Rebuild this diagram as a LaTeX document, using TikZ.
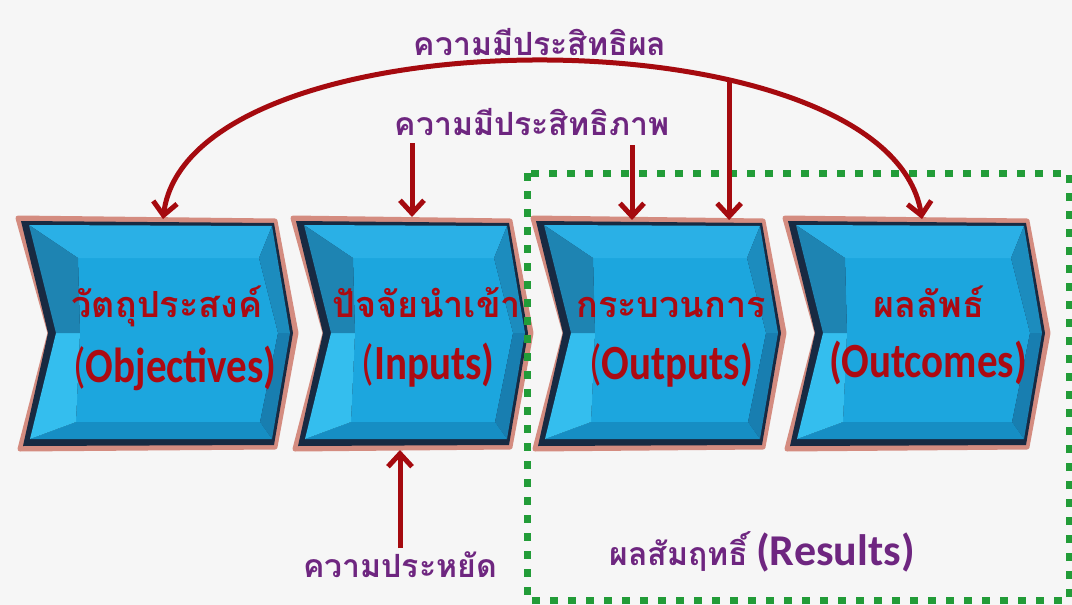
\documentclass[tikz,border=0pt]{standalone}
\usepackage{fontspec}
\newfontfamily\thai[Script=Thai]{Loma}
\newfontfamily\lat{Carlito}
\usetikzlibrary{arrows.meta}
\definecolor{bgc}{RGB}{246,246,246}
\definecolor{pinkb}{RGB}{212,140,128}
\definecolor{navyc}{RGB}{24,42,66}
\definecolor{chFace}{RGB}{28,166,222}
\definecolor{chTop}{RGB}{42,176,230}
\definecolor{chLeftUp}{RGB}{30,132,178}
\definecolor{chLeftLow}{RGB}{52,190,238}
\definecolor{chRight}{RGB}{28,140,190}
\definecolor{chRightLow}{RGB}{24,126,176}
\definecolor{chBottom}{RGB}{22,142,196}
\definecolor{arrowred}{RGB}{165,10,15}
\definecolor{textred}{RGB}{172,10,18}
\definecolor{purp}{RGB}{110,38,128}
\definecolor{greenc}{RGB}{34,156,56}
\newcommand{\chev}[2]{%
  \fill[pinkb, draw=pinkb, line width=5pt, line join=round]
    (#1,218) -- (#2,221) -- ({#2+21},333) -- (#2,447) -- ({#1+2},449) -- ({#1+32},333) -- cycle;
  \fill[navyc] ({#1+3},221) -- ({#2-1},223) -- ({#2+18},333) -- ({#2-1},445) -- ({#1+5},446) -- ({#1+30},333) -- cycle;
  \coordinate (P1) at ({#1+11},225); \coordinate (P2) at ({#2-3},226);
  \coordinate (P3) at ({#2+15},333); \coordinate (P4) at ({#2-3},439);
  \coordinate (P5) at ({#1+12},439); \coordinate (P6) at ({#1+38},333);
  \coordinate (Q1) at ({#1+60},258); \coordinate (Q2) at ({#2-16},258);
  \coordinate (Q3) at ({#2+3},333); \coordinate (Q4) at ({#2-15},422);
  \coordinate (Q5) at ({#1+58},422); \coordinate (Q6) at ({#1+62},333);
  \fill[chFace] (Q1) -- (Q2) -- (Q3) -- (Q4) -- (Q5) -- (Q6) -- cycle;
  \fill[chTop] (P1) -- (P2) -- (Q2) -- (Q1) -- cycle;
  \fill[chRight] (P2) -- (P3) -- (Q3) -- (Q2) -- cycle;
  \fill[chRightLow] (P3) -- (P4) -- (Q4) -- (Q3) -- cycle;
  \fill[chBottom] (P4) -- (P5) -- (Q5) -- (Q4) -- cycle;
  \fill[chLeftLow] (P5) -- (P6) -- (Q6) -- (Q5) -- cycle;
  \fill[chLeftUp] (P6) -- (P1) -- (Q1) -- (Q6) -- cycle;
}
\tikzset{
  >={Straight Barb[length=13pt,width=24pt]},
  arr/.style={draw=arrowred, line width=5pt},
  thtext/.style={anchor=base, text=textred, inner sep=0pt, font=\thai\bfseries\fontsize{36}{36}\selectfont},
  entext/.style={anchor=base, text=textred, inner sep=0pt},
  lbl/.style={anchor=base, text=purp, inner sep=0pt, font=\thai\bfseries\fontsize{32}{32}\selectfont},
  resbox/.style={draw=greenc, line width=7pt, dash pattern=on 8pt off 10pt}
}
\newcommand{\en}[1]{\scalebox{1}[1.2]{\lat\bfseries\fontsize{41}{41}\selectfont #1}}
\newcommand{\op}{{\mdseries(}}
\begin{document}
\begin{tikzpicture}[x=1pt,y=-1pt]
\fill[bgc] (0,0) rectangle (1072,605);
\useasboundingbox (0,0) rectangle (1072,605);
% chevrons
\chev{18}{275}
\chev{293}{510}
\chev{533}{763}
\chev{785}{1027}
% chevron texts
\node[thtext] (c1th) at (167,317) {วัตถุประสงค์};
\node[entext] (c1en) at (175,382) {\en{\op Objectives)}};
\node[thtext] (c2th) at (427,317) {ปัจจัยนำเข้า};
\node[entext] (c2en) at (428,379) {\en{\op Inputs)}};
\node[thtext] (c3th) at (671,317) {กระบวนการ};
\node[entext] (c3en) at (671,379) {\en{\op Outputs)}};
\node[thtext] (c4th) at (929,317) {ผลลัพธ์};
\node[entext] (c4en) at (928,377) {\en{(Outcomes)}};
% results box
\draw[resbox] (527,173) rectangle (1069,600);
\node[anchor=base, text=purp, inner sep=0pt] (res) at (762,565)
  {{\thai\bfseries\fontsize{32}{32}\selectfont ผลสัมฤทธิ์}\hspace{8pt}{\lat\bfseries\fontsize{44}{44}\selectfont (Results)}};
% labels
\node[lbl] (eff) at (540,55) {ความมีประสิทธิผล};
\node[lbl] (effi) at (532,135) {ความมีประสิทธิภาพ};
\node[lbl] (eco) at (400,577) {ความประหยัด};
% anchor points on chevrons
\coordinate (a1) at (163,219);
\coordinate (a2) at (412,217);
\coordinate (a3) at (632,220);
\coordinate (a4) at (922,219);
\coordinate (b2) at (400,450);
\coordinate (s2) at (412,143);
\coordinate (s3) at (632,145);
\coordinate (sb) at (400,548);
% arrows
\draw[arr,<->] (a1) .. controls (190,9) and (888,9) .. coordinate[pos=0.68] (junc) (a4);
\draw[arr,->] (junc) -- (junc |- a3);
\draw[arr,->] (s2) -- (a2);
\draw[arr,->] (s3) -- (a3);
\draw[arr,->] (sb) -- (b2);
\end{tikzpicture}
\end{document}
